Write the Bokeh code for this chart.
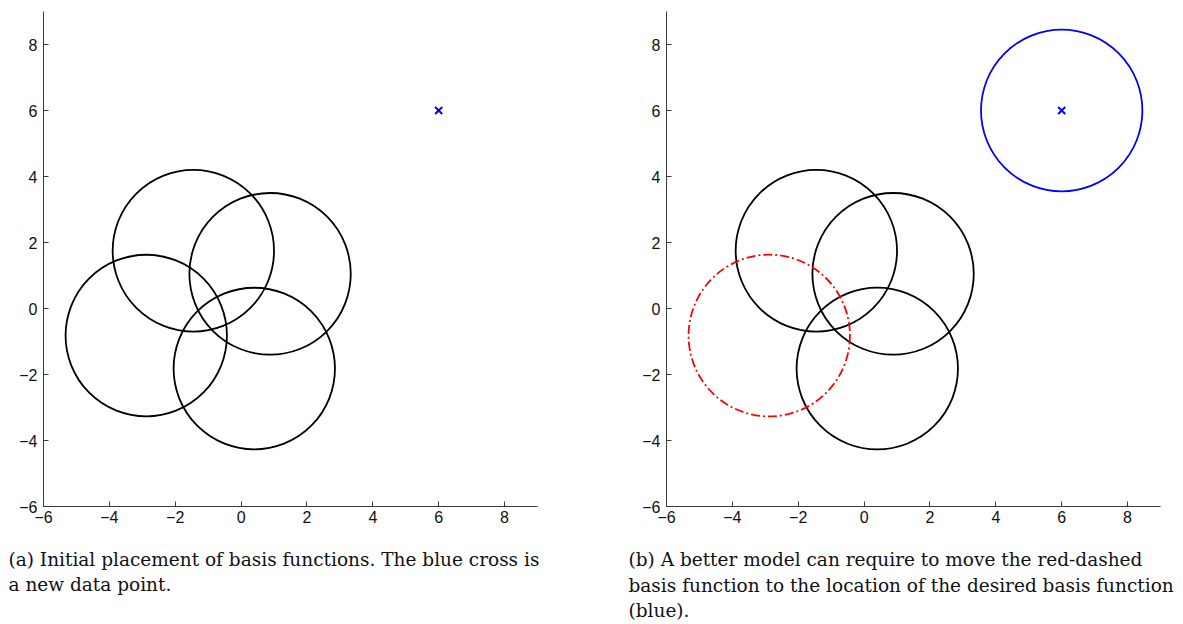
from bokeh.plotting import figure
from bokeh.layouts import row
from bokeh.models import FixedTicker, Title
from bokeh.embed import file_html
from bokeh.resources import INLINE

# ---- data ----
basis_x = [-1.45, 0.88, -2.88, 0.40]
basis_y = [1.75, 1.05, -0.82, -1.82]
basis_r = [2.45, 2.45, 2.45, 2.45]
new_point_x = [6.0]
new_point_y = [6.0]
moved_idx = 2          # basis function to move (red-dashed)
desired_x = [6.0]
desired_y = [6.0]
desired_r = [2.45]

ticks = [-6, -4, -2, 0, 2, 4, 6, 8]
tick_labels = {t: (("\u2212" + str(abs(t))) if t < 0 else str(t)) for t in ticks}

caption_a = ["(a) Initial placement of basis functions. The blue cross is",
             "a new data point."]
caption_b = ["(b) A better model can require to move the red-dashed",
             "basis function to the location of the desired basis function",
             "(blue)."]

AX = "#3a3a3a"
SERIF = "DejaVu Serif"
SANS = "Liberation Sans"

FW, FH = 494, 495


def make_panel(left_border, right_border):
    p = figure(x_range=(-6, 9), y_range=(-6, 9),
               frame_width=FW, frame_height=FH,
               min_border_left=left_border, min_border_right=right_border,
               min_border_top=11, min_border_bottom=100,
               output_backend="svg", toolbar_location=None)
    p.grid.visible = False
    p.outline_line_color = None
    for ax in (p.xaxis[0], p.yaxis[0]):
        ax.ticker = FixedTicker(ticks=ticks)
        ax.major_label_overrides = tick_labels
        ax.minor_tick_line_color = None
        ax.major_tick_in = 5
        ax.major_tick_out = 0
        ax.axis_line_color = AX
        ax.major_tick_line_color = AX
        ax.major_label_text_font = SANS
        ax.major_label_text_font_size = "16px"
        ax.major_label_text_color = "#111111"
    p.xaxis.major_label_standoff = 4
    p.yaxis.major_label_standoff = 6
    return p


def add_caption(p, lines, dx):
    # spacer between the x axis and the caption
    p.add_layout(Title(text=" ", standoff=2, text_font=SERIF, text_font_size="14px"),
                 "below")
    n = len(lines)
    for i, line in enumerate(lines):
        p.add_layout(Title(text=line, align="left", offset=dx,
                           standoff=(0 if i == n - 1 else 3),
                           text_font=SERIF, text_font_size="18.5px",
                           text_font_style="normal", text_color="#111111"),
                     "below")


# panel (a)
pa = make_panel(43, 63)
pa.ellipse(basis_x, basis_y, width=[2 * r for r in basis_r],
           height=[2 * r for r in basis_r], fill_color=None,
           line_color="black", line_width=1.8)
pa.scatter(new_point_x, new_point_y, marker="x", size=10, line_color="blue", line_width=2)
add_caption(pa, caption_a, -35)

# panel (b)
pb = make_panel(66, 23)
keep = [i for i in range(len(basis_x)) if i != moved_idx]
pb.ellipse([basis_x[i] for i in keep], [basis_y[i] for i in keep],
           width=[2 * basis_r[i] for i in keep], height=[2 * basis_r[i] for i in keep],
           fill_color=None, line_color="black", line_width=1.8)
pb.ellipse([basis_x[moved_idx]], [basis_y[moved_idx]],
           width=[2 * basis_r[moved_idx]], height=[2 * basis_r[moved_idx]],
           fill_color=None, line_color="red", line_width=1.8, line_dash="9 3 2 3")
pb.ellipse(desired_x, desired_y, width=[2 * r for r in desired_r],
           height=[2 * r for r in desired_r], fill_color=None,
           line_color="blue", line_width=1.8)
pb.scatter(new_point_x, new_point_y, marker="x", size=10, line_color="blue", line_width=2)
add_caption(pb, caption_b, -38)

layout = row(pa, pb)
open("out.html", "w").write(file_html(layout, INLINE))
